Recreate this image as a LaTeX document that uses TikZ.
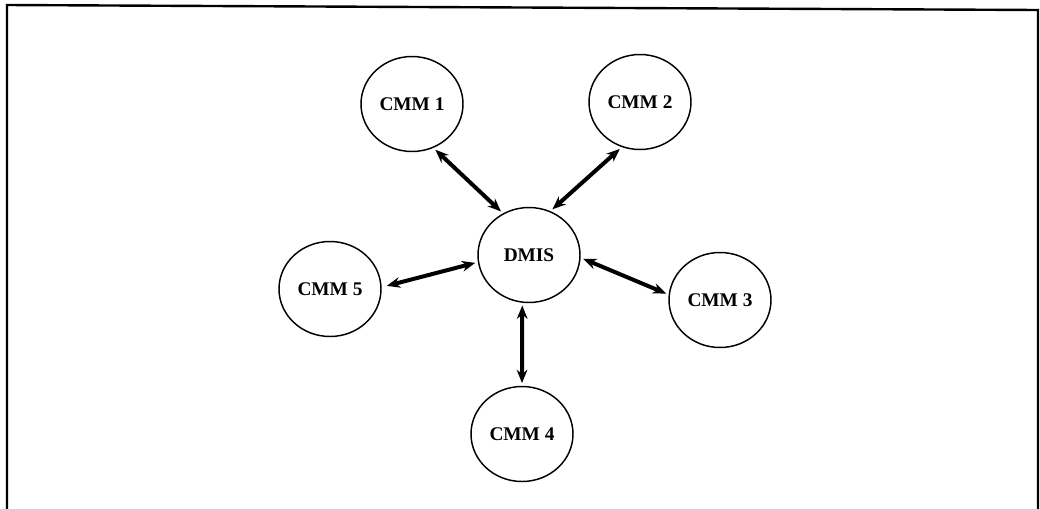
\documentclass[tikz,border=0pt]{standalone}
\usepackage{fontspec}
\setmainfont{Liberation Serif}
\usetikzlibrary{shapes.geometric,arrows.meta}
\tikzset{
  station/.style={ellipse, draw, line width=1.1pt, minimum width=102*0.75pt,
    minimum height=95*0.75pt, inner sep=0pt,
    font=\fontsize{14.5}{16}\selectfont\bfseries},
  link/.style={line width=3pt, {Stealth[length=10pt,width=8pt]}-{Stealth[length=10pt,width=8pt]}},
  frameline/.style={line width=1.8pt, line cap=round}
}
\begin{document}
\begin{tikzpicture}[x=0.75pt, y=-0.75pt]
  \useasboundingbox (0,0) rectangle (1040,508);
  % outer frame (bottom edge lies below the page)
  \coordinate (fbl) at (7,520);
  \coordinate (ftl) at (7,5);
  \coordinate (ftr) at (1038,10);
  \coordinate (fbr) at (1038,520);
  \draw[frameline] (fbl) -- (ftl) -- (ftr) -- (fbr);

  % stations
  \node[station] (dmis) at (529,255) {DMIS};
  \node[station] (c1) at (412,104) {CMM 1};
  \node[station] (c2) at (640,102) {CMM 2};
  \node[station] (c3) at (720,300) {CMM 3};
  \node[station] (c4) at (522,434) {CMM 4};
  \node[station] (c5) at (330,289) {CMM 5};

  % two-way links
  \draw[link, shorten <=2pt, shorten >=2pt] (c1.-64) -- (dmis.122);
  \draw[link, shorten <=2pt, shorten >=2pt] (c2.248) -- (dmis.64);
  \draw[link, shorten <=2pt, shorten >=2pt] (dmis.-3) -- (c3.174);
  \draw[link, shorten <=2pt, shorten >=2pt] (dmis.-98) -- (c4.90);
  \draw[link, shorten <=2pt, shorten >=4pt] (dmis.188) -- (c5.2);
\end{tikzpicture}
\end{document}
